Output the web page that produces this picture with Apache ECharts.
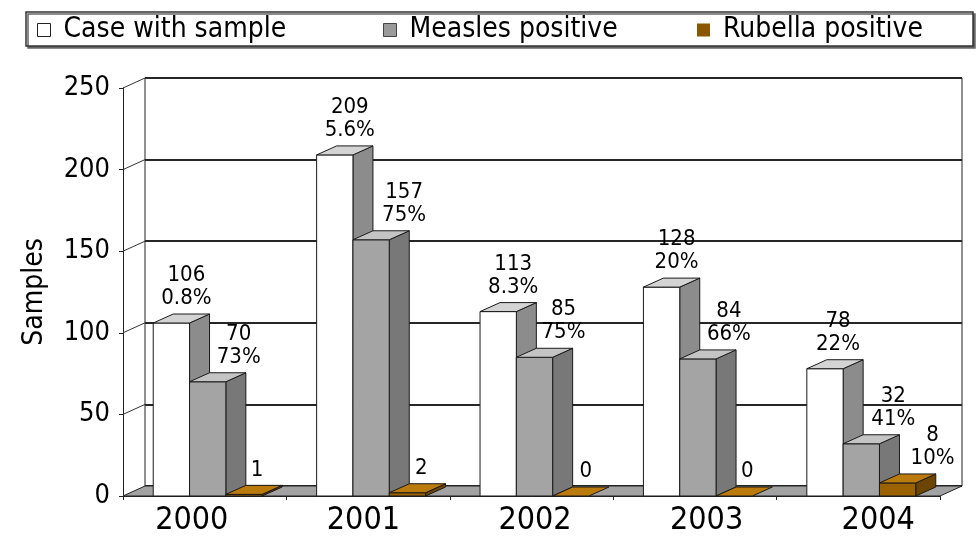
<!DOCTYPE html>
<html>
<head>
<meta charset="utf-8">
<title>Measles and rubella samples 2000-2004</title>
<script src="https://cdn.jsdelivr.net/npm/echarts@6/dist/echarts.min.js"></script>
<style>
  html, body { margin: 0; padding: 0; background: #ffffff; }
  #chart { width: 979px; height: 543px; }
</style>
</head>
<body>
<div id="chart"></div>
<script>
// ---- data ----
const years = ['2000', '2001', '2002', '2003', '2004'];
const casesWithSample = [106, 209, 113, 128, 78];
const casesPct = ['0.8%', '5.6%', '8.3%', '20%', '22%'];
const measlesPositive = [70, 157, 85, 84, 32];
const measlesPct = ['73%', '75%', '75%', '66%', '41%'];
const rubellaPositive = [1, 2, 0, 0, 8];
const rubellaPct = ['', '', '', '', '10%'];
const yTicks = [0, 50, 100, 150, 200, 250];
const seriesNames = ['Case with sample', 'Measles positive', 'Rubella positive'];

// ---- styling ----
const FONT = "'DejaVu Sans Condensed', 'DejaVu Sans', sans-serif";
const INK = '#000000';
const WALL_DX = 22, WALL_DY = -10;   // depth of the chart box
const BAR_DX = 20, BAR_DY = -9;      // depth of each column
const GROUP_SHIFT = 3;
const EDGE = '#1a1a1a';
const faces = [
  { front: '#ffffff', top: '#d4d4d4', side: '#8c8c8c' },
  { front: '#a4a4a4', top: '#c4c4c4', side: '#787878' },
  { front: '#9b6300', top: '#bb7a0c', side: '#6c4500' }
];
const legendSwatch = [
  { color: '#ffffff', borderColor: '#222', borderWidth: 1 },
  { color: '#9a9a9a', borderColor: '#444', borderWidth: 1 },
  { color: '#8a5600', borderColor: '#8a5600', borderWidth: 0 }
];
const labelShift = [
  [15, 15, 15, 15, 13],
  [31, 33, 29, 31, 32],
  [13, 14, 15, 13, 35]
];

const valueSets = [casesWithSample, measlesPositive, rubellaPositive];
const pctSets = [casesPct, measlesPct, rubellaPct];

function edgeStyle(fill) {
  return { fill: fill, stroke: EDGE, lineWidth: 1, lineJoin: 'round' };
}

// One 3D column: front face, right side face and top face.
function columnGeometry(api, si, cat, val) {
  const band = api.size([1, 0])[0];
  const bw = band / 4.5;
  const c = api.coord([cat, val]);
  const base = api.coord([cat, 0])[1];
  const x0 = c[0] - 1.5 * bw + si * bw + GROUP_SHIFT;
  return { x0: x0, x1: x0 + bw, top: c[1], base: base, bw: bw };
}

function columnRenderer(si) {
  return function (params, api) {
    const g = columnGeometry(api, si, api.value(0), api.value(1));
    const f = faces[si];
    const kids = [];
    if (g.base - g.top > 0.5) {
      kids.push({
        type: 'polygon',
        shape: { points: [[g.x1, g.top], [g.x1 + BAR_DX, g.top + BAR_DY], [g.x1 + BAR_DX, g.base + BAR_DY], [g.x1, g.base]] },
        style: edgeStyle(f.side)
      });
      kids.push({
        type: 'rect',
        shape: { x: g.x0, y: g.top, width: g.bw, height: g.base - g.top },
        style: edgeStyle(f.front)
      });
    }
    kids.push({
      type: 'polygon',
      shape: { points: [[g.x0, g.top], [g.x0 + BAR_DX, g.top + BAR_DY], [g.x1 + BAR_DX, g.top + BAR_DY], [g.x1, g.top]] },
      style: edgeStyle(f.top)
    });
    return { type: 'group', children: kids };
  };
}

function labelRenderer(params, api) {
  const si = api.value(2);
  const cat = api.value(0);
  const val = api.value(1);
  const g = columnGeometry(api, si, cat, val);
  const pct = pctSets[si][cat];
  return {
    type: 'text',
    style: {
      text: pct ? val + '\n' + pct : String(val),
      x: g.x0 + g.bw / 2 + labelShift[si][cat],
      y: g.top + BAR_DY - 4,
      align: 'center',
      verticalAlign: 'bottom',
      fontFamily: FONT,
      fontSize: 22,
      lineHeight: 23,
      fill: INK
    }
  };
}

// Floor and left side wall of the box.
function wallsRenderer(params, api) {
  const band = api.size([1, 0])[0];
  const L = api.coord([0, 0])[0] - band / 2;
  const R = api.coord([years.length - 1, 0])[0] + band / 2;
  const B = api.coord([0, 0])[1];
  const kids = [];
  kids.push({
    type: 'polygon',
    shape: { points: [[L, B], [R, B], [R + WALL_DX, B + WALL_DY], [L + WALL_DX, B + WALL_DY]] },
    style: { fill: '#a2a2a2', stroke: '#222', lineWidth: 1 }
  });
  yTicks.forEach(function (v) {
    if (v === 0) return;
    const y = api.coord([0, v])[1];
    kids.push({
      type: 'line',
      shape: { x1: L, y1: y, x2: L + WALL_DX, y2: y + WALL_DY },
      style: { stroke: '#333', lineWidth: 1 }
    });
  });
  return { type: 'group', children: kids };
}

const chart = echarts.init(document.getElementById('chart'), null, { renderer: 'canvas' });

const columnSeries = seriesNames.map(function (name, si) {
  return {
    name: name,
    type: 'custom',
    coordinateSystem: 'cartesian2d',
    xAxisIndex: 0,
    yAxisIndex: 0,
    z: 3,
    clip: false,
    silent: true,
    itemStyle: { color: legendSwatch[si].color },
    renderItem: columnRenderer(si),
    encode: { x: 0, y: 1 },
    data: valueSets[si].map(function (v, i) { return [i, v]; })
  };
});

const labelData = [];
valueSets.forEach(function (vals, si) {
  vals.forEach(function (v, i) { labelData.push([i, v, si]); });
});

function legendFor(i, left) {
  return {
    left: left,
    top: 16,
    padding: 0,
    selectedMode: false,
    itemWidth: 29,
    itemHeight: 13,
    textStyle: { fontFamily: FONT, fontSize: 28, color: INK, lineHeight: 28 },
    data: [{
      name: seriesNames[i],
      icon: 'path://M0,0H10V10H0Z',
      itemStyle: legendSwatch[i]
    }]
  };
}

chart.setOption({
  animation: false,
  backgroundColor: '#ffffff',
  textStyle: { fontFamily: FONT },
  graphic: [{
    type: 'rect',
    z: -1,
    shape: { x: 26, y: 12, width: 947, height: 34 },
    style: {
      fill: '#ffffff', stroke: '#333', lineWidth: 1.5,
      shadowColor: '#666', shadowOffsetX: 2, shadowOffsetY: 2, shadowBlur: 0
    }
  }],
  legend: [legendFor(0, 37), legendFor(1, 383), legendFor(2, 697)],
  grid: [
    // front plane
    { left: 123, right: 39, top: 88, bottom: 47, show: false },
    // back wall
    { left: 145, right: 17, top: 78, bottom: 57, show: true, backgroundColor: '#ffffff', borderColor: '#222', borderWidth: 1 },
    // category label row
    { left: 106, right: 15, top: 88, bottom: 47, show: false }
  ],
  xAxis: [
    {
      gridIndex: 0, type: 'category', data: years,
      axisLine: { show: true, lineStyle: { color: '#222', width: 1 } },
      axisTick: { show: true, length: 4, lineStyle: { color: '#222' } },
      axisLabel: { show: false },
      splitLine: { show: false }
    },
    { gridIndex: 1, type: 'category', data: years, show: false },
    {
      gridIndex: 2, type: 'category', data: years,
      axisLine: { show: false }, axisTick: { show: false },
      axisLabel: { show: true, margin: 9, fontFamily: FONT, fontSize: 32, color: INK },
      splitLine: { show: false }
    }
  ],
  yAxis: [
    {
      gridIndex: 0, type: 'value', min: 0, max: 250, interval: 50,
      name: 'Samples', nameLocation: 'middle', nameGap: 74, nameRotate: 90,
      nameTextStyle: { fontFamily: FONT, fontSize: 28, color: INK },
      axisLine: { show: true, lineStyle: { color: '#222', width: 1 } },
      axisTick: { show: true, length: 4, lineStyle: { color: '#222' } },
      axisLabel: { margin: 13, fontFamily: FONT, fontSize: 27, color: INK },
      splitLine: { show: false }
    },
    {
      gridIndex: 1, type: 'value', min: 0, max: 250, interval: 50,
      axisLine: { show: false }, axisTick: { show: false }, axisLabel: { show: false },
      splitLine: { show: true, lineStyle: { color: '#262626', width: 2 } }
    },
    { gridIndex: 2, type: 'value', min: 0, max: 250, interval: 50, show: false, splitLine: { show: false } }
  ],
  series: [
    {
      name: 'walls',
      type: 'custom',
      coordinateSystem: 'cartesian2d',
      xAxisIndex: 0, yAxisIndex: 0,
      z: 1, clip: false, silent: true,
      renderItem: wallsRenderer,
      data: [[0, 0]]
    }
  ].concat(columnSeries).concat([
    {
      name: 'values',
      type: 'custom',
      coordinateSystem: 'cartesian2d',
      xAxisIndex: 0, yAxisIndex: 0,
      z: 5, clip: false, silent: true,
      renderItem: labelRenderer,
      encode: { x: 0, y: 1 },
      data: labelData
    }
  ])
});
</script>
</body>
</html>
